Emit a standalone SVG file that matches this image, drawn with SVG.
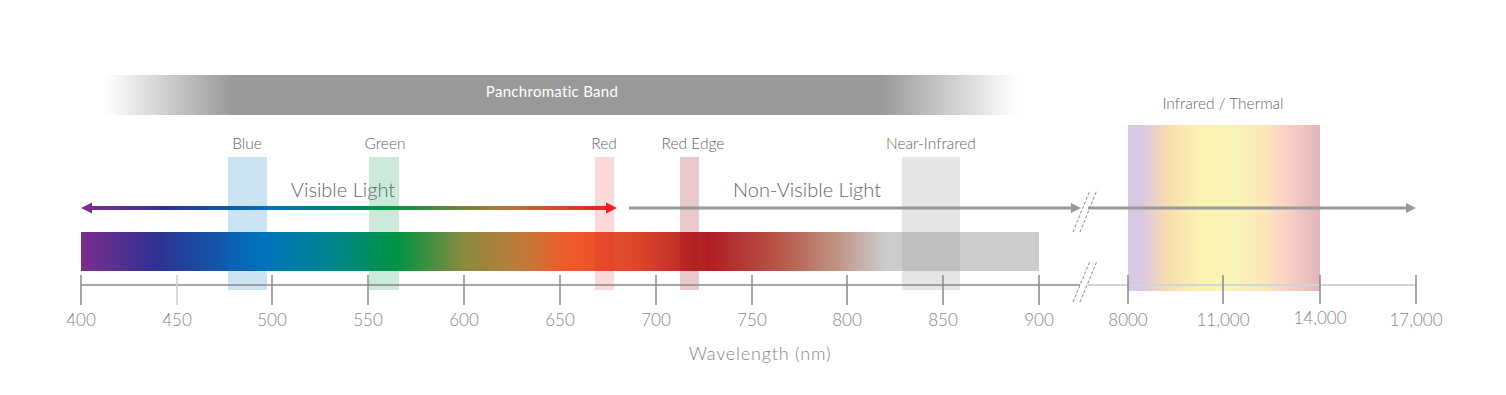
<svg xmlns="http://www.w3.org/2000/svg" width="1506" height="395" viewBox="0 0 1506 395">
<defs>
<style>
text{font-family:Lato,"Liberation Sans",sans-serif;font-weight:300}
.band{font-size:15.5px;fill:#666;text-anchor:middle}
.big{font-size:20px;fill:#666;text-anchor:middle}
.tick{font-size:17px;fill:#858585;text-anchor:middle}
.tk{stroke:#888;stroke-width:1.5}
.brk{stroke:#888;stroke-width:1;stroke-dasharray:3 2;fill:none}
</style>
<linearGradient id="pan" x1="0" x2="1" y1="0" y2="0">
<stop offset="0" stop-color="#fff"/>
<stop offset="0.14" stop-color="#999"/>
<stop offset="0.85" stop-color="#999"/>
<stop offset="1" stop-color="#fff"/>
</linearGradient>
<linearGradient id="spec" x1="0" x2="1" y1="0" y2="0">
<stop offset="0" stop-color="#7b2e8e"/>
<stop offset="0.08" stop-color="#2e3192"/>
<stop offset="0.19" stop-color="#0072bc"/>
<stop offset="0.26" stop-color="#00848f"/>
<stop offset="0.33" stop-color="#009444"/>
<stop offset="0.40" stop-color="#8a8a40"/>
<stop offset="0.46" stop-color="#c07a38"/>
<stop offset="0.51" stop-color="#f15a2b"/>
<stop offset="0.58" stop-color="#dc472c"/>
<stop offset="0.655" stop-color="#b01e23"/>
<stop offset="0.73" stop-color="#b8564a"/>
<stop offset="0.79" stop-color="#c09585"/>
<stop offset="0.84" stop-color="#cccccc"/>
<stop offset="1" stop-color="#cccccc"/>
</linearGradient>
<linearGradient id="vis" x1="0" x2="1" y1="0" y2="0">
<stop offset="0" stop-color="#7b2e8e"/>
<stop offset="0.15" stop-color="#2e3192"/>
<stop offset="0.35" stop-color="#0072bc"/>
<stop offset="0.58" stop-color="#009444"/>
<stop offset="0.8" stop-color="#b07a38"/>
<stop offset="1" stop-color="#ed1c24"/>
</linearGradient>
<linearGradient id="ir" x1="0" x2="1" y1="0" y2="0">
<stop offset="0" stop-color="#d8c8e4"/>
<stop offset="0.07" stop-color="#d8c8e4"/>
<stop offset="0.2" stop-color="#f8dcb0"/>
<stop offset="0.38" stop-color="#fbf3b0"/>
<stop offset="0.55" stop-color="#f9f5b8"/>
<stop offset="0.72" stop-color="#fce6b8"/>
<stop offset="0.8" stop-color="#fcd6c6"/>
<stop offset="1" stop-color="#e2b6ba"/>
</linearGradient>
</defs>
<rect width="1506" height="395" fill="#fff"/>

<g id="panchromatic">
<rect x="105" y="75" width="912" height="40" fill="url(#pan)"/>
<text x="552" y="97" style="font-size:15px;fill:#fff;text-anchor:middle;font-weight:400;letter-spacing:0.3px">Panchromatic Band</text>
</g>

<g id="infrared">
<rect x="1128" y="125" width="192" height="166" fill="url(#ir)"/>
<text class="band" x="1223" y="109">Infrared / Thermal</text>
</g>

<g id="spectrum">
<rect x="81" y="232" width="958" height="39" fill="url(#spec)"/>
</g>

<g id="blue">
<rect x="228" y="157" width="39" height="133" fill="#0072bc" opacity="0.2"/>
<text class="band" x="247" y="149">Blue</text>
</g>
<g id="green">
<rect x="369" y="157" width="30" height="133" fill="#009444" opacity="0.2"/>
<text class="band" x="385" y="149">Green</text>
</g>
<g id="red">
<rect x="595" y="157" width="19" height="133" fill="#ed1c24" opacity="0.17"/>
<text class="band" x="604" y="149">Red</text>
</g>
<g id="red-edge">
<rect x="680" y="157" width="19" height="133" fill="#a0171e" opacity="0.23"/>
<text class="band" x="693" y="149">Red Edge</text>
</g>
<g id="near-infrared">
<rect x="902" y="157" width="58" height="133" fill="#999" opacity="0.25"/>
<text class="band" x="931" y="149">Near-Infrared</text>
</g>

<g id="axis">
<line x1="1088" y1="285" x2="1416" y2="285" stroke="#d4d4d4" stroke-width="2"/>
<line x1="81" y1="285" x2="1080" y2="285" stroke="#888" stroke-width="1.5"/>
<line class="tk" x1="81" y1="275" x2="81" y2="305"/>
<line x1="177" y1="275" x2="177" y2="305" stroke="#ccc" stroke-width="1.5"/>
<line class="tk" x1="272" y1="275" x2="272" y2="305"/>
<line class="tk" x1="368" y1="275" x2="368" y2="305"/>
<line class="tk" x1="464" y1="275" x2="464" y2="305"/>
<line class="tk" x1="560" y1="275" x2="560" y2="305"/>
<line class="tk" x1="656" y1="275" x2="656" y2="305"/>
<line class="tk" x1="752" y1="275" x2="752" y2="305"/>
<line class="tk" x1="847" y1="275" x2="847" y2="305"/>
<line class="tk" x1="943" y1="275" x2="943" y2="305"/>
<line class="tk" x1="1039" y1="275" x2="1039" y2="305"/>
<line class="tk" x1="1128" y1="275" x2="1128" y2="304"/>
<line class="tk" x1="1223" y1="275" x2="1223" y2="304"/>
<line class="tk" x1="1320" y1="275" x2="1320" y2="304"/>
<line class="tk" x1="1416" y1="275" x2="1416" y2="304"/>
<path class="brk" d="M1073 302 L1090 261 M1080 302 L1097 261"/>
<text class="tick" x="81" y="326">400</text>
<text class="tick" x="177" y="326">450</text>
<text class="tick" x="272" y="326">500</text>
<text class="tick" x="368" y="326">550</text>
<text class="tick" x="464" y="326">600</text>
<text class="tick" x="560" y="326">650</text>
<text class="tick" x="656" y="326">700</text>
<text class="tick" x="752" y="326">750</text>
<text class="tick" x="847" y="326">800</text>
<text class="tick" x="943" y="326">850</text>
<text class="tick" x="1039" y="326">900</text>
<text class="tick" x="1128" y="326">8000</text>
<text class="tick" x="1223" y="326">11,000</text>
<text class="tick" x="1320" y="324">14,000</text>
<text class="tick" x="1416" y="326">17,000</text>
<text class="tick" x="760" y="360" style="font-size:18px;letter-spacing:0.8px">Wavelength (nm)</text>
</g>

<g id="connectors">
<rect x="89" y="206" width="519" height="4" fill="url(#vis)"/>
<polygon points="81,208 92,202.5 92,213.5" fill="#7b2e8e"/>
<polygon points="617,208 606,202.5 606,213.5" fill="#ed1c24"/>
<rect x="629" y="206.5" width="444" height="3" fill="#999"/>
<polygon points="1081,208 1071,203 1071,213" fill="#999"/>
<rect x="1088" y="206.5" width="320" height="3" fill="#999"/>
<polygon points="1416,208 1406,203 1406,213" fill="#999"/>
<path class="brk" d="M1073 232 L1090 190 M1080 232 L1097 190"/>
</g>

<g id="labels">
<text class="big" x="343" y="197">Visible Light</text>
<text class="big" x="807" y="197">Non-Visible Light</text>
</g>
</svg>
